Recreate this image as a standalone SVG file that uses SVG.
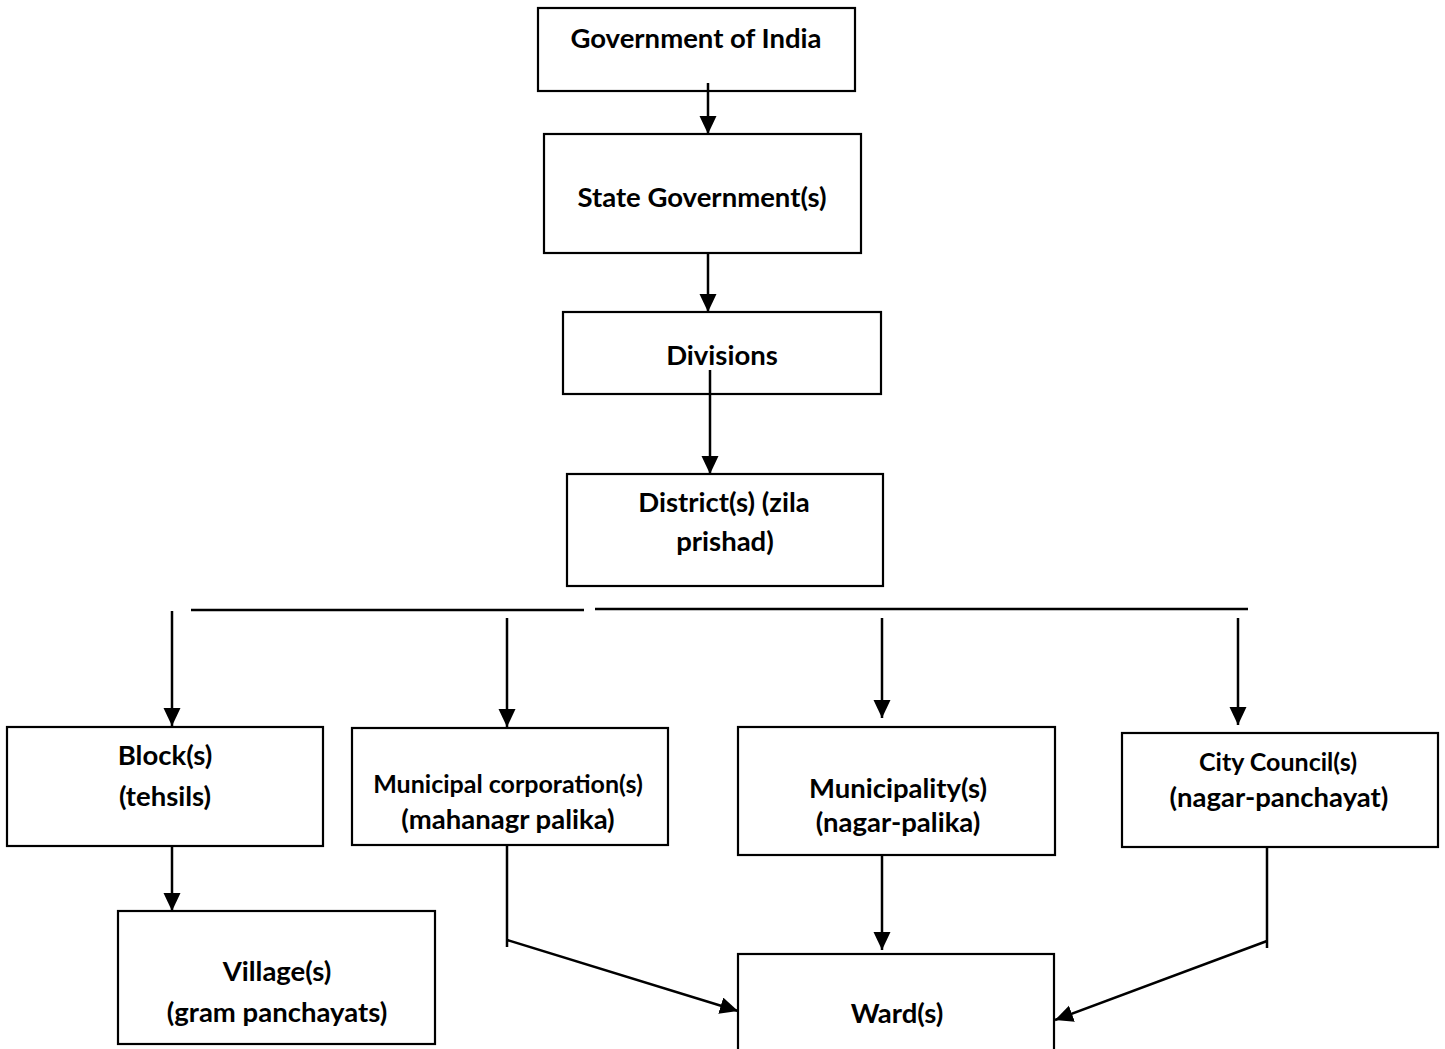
<svg xmlns="http://www.w3.org/2000/svg" width="1445" height="1049" viewBox="0 0 1445 1049">
<style>
.box{fill:#fff;stroke:#000;stroke-width:2.2}
.t{font-family:Lato,"Liberation Sans",sans-serif;font-weight:bold;font-size:27.5px;text-anchor:middle;fill:#000}
.s{font-size:25px}
.c{fill:none;stroke:#000;stroke-width:2.5}
</style>
<defs>
<marker id="ah" markerUnits="userSpaceOnUse" markerWidth="20" markerHeight="20" refX="18" refY="8.5" orient="auto">
<path d="M0,0 L18,8.5 L0,17 z" fill="#000"/>
</marker>
</defs>
<rect width="1445" height="1049" fill="#fff"/>
<g id="n-gov"><rect class="box" x="538" y="8" width="317" height="83"/><text class="t" x="696" y="48">Government of India</text></g>
<g id="n-state"><rect class="box" x="544" y="134" width="317" height="119"/><text class="t" x="702" y="207">State Government(s)</text></g>
<g id="n-div"><rect class="box" x="563" y="312" width="318" height="82"/><text class="t" x="722" y="365">Divisions</text></g>
<g id="n-dist"><rect class="box" x="567" y="474" width="316" height="112"/><text class="t" x="724" y="512">District(s) (zila</text><text class="t" x="725" y="551">prishad)</text></g>
<g id="n-block"><rect class="box" x="7" y="727" width="316" height="119"/><text class="t" x="165" y="765">Block(s)</text><text class="t" x="165" y="806">(tehsils)</text></g>
<g id="n-mcorp"><rect class="box" x="352" y="728" width="316" height="117"/><text class="t s" x="508" y="793">Municipal corporation(s)</text><text class="t" x="508" y="829">(mahanagr palika)</text></g>
<g id="n-mun"><rect class="box" x="738" y="727" width="317" height="128"/><text class="t" x="898" y="798">Municipality(s)</text><text class="t" x="898" y="832">(nagar-palika)</text></g>
<g id="n-city"><rect class="box" x="1122" y="733" width="316" height="114"/><text class="t s" x="1278" y="771">City Council(s)</text><text class="t" x="1279" y="807">(nagar-panchayat)</text></g>
<g id="n-village"><rect class="box" x="118" y="911" width="317" height="133"/><text class="t" x="277" y="981">Village(s)</text><text class="t" x="277" y="1022">(gram panchayats)</text></g>
<g id="n-ward"><rect class="box" x="738" y="954" width="316" height="110"/><text class="t" x="897" y="1023">Ward(s)</text></g>
<g id="connectors">
<line class="c" x1="708" y1="83" x2="708" y2="134" marker-end="url(#ah)"/>
<line class="c" x1="708" y1="253" x2="708" y2="312" marker-end="url(#ah)"/>
<line class="c" x1="710" y1="370" x2="710" y2="474" marker-end="url(#ah)"/>
<line class="c" x1="191" y1="610" x2="584" y2="610"/>
<line class="c" x1="595" y1="609" x2="1248" y2="609"/>
<line class="c" x1="172" y1="611" x2="172" y2="726" marker-end="url(#ah)"/>
<line class="c" x1="507" y1="618" x2="507" y2="727" marker-end="url(#ah)"/>
<line class="c" x1="882" y1="618" x2="882" y2="718" marker-end="url(#ah)"/>
<line class="c" x1="1238" y1="618" x2="1238" y2="725" marker-end="url(#ah)"/>
<line class="c" x1="172" y1="846" x2="172" y2="911" marker-end="url(#ah)"/>
<line class="c" x1="507" y1="845" x2="507" y2="947"/>
<line class="c" x1="507" y1="940" x2="738" y2="1011" marker-end="url(#ah)"/>
<line class="c" x1="882" y1="855" x2="882" y2="950" marker-end="url(#ah)"/>
<line class="c" x1="1267" y1="847" x2="1267" y2="948"/>
<line class="c" x1="1267" y1="941" x2="1055" y2="1020" marker-end="url(#ah)"/>
</g>
</svg>
